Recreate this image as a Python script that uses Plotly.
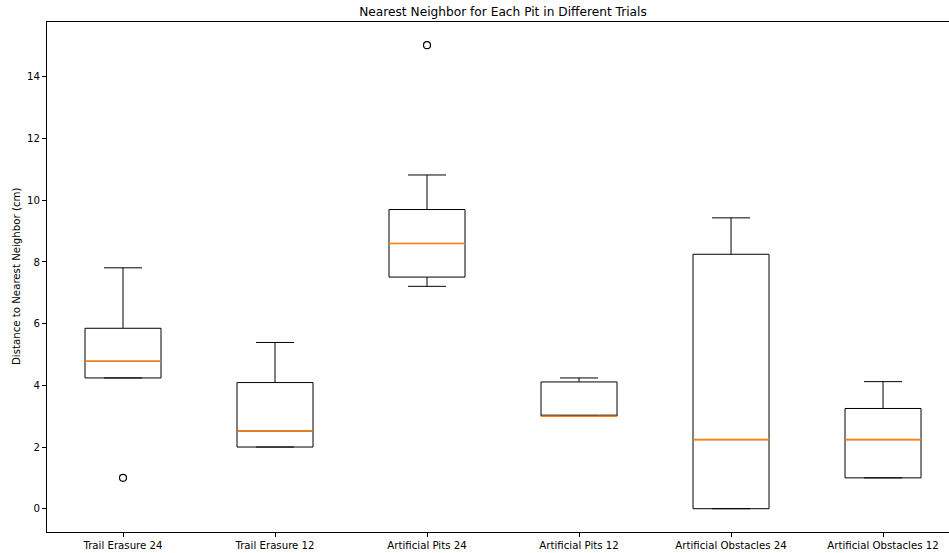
import plotly.graph_objects as go

# Nearest-neighbour distances per trial (cm): box summary statistics
trials = ["Trail Erasure 24", "Trail Erasure 12", "Artificial Pits 24",
          "Artificial Pits 12", "Artificial Obstacles 24", "Artificial Obstacles 12"]
positions = [1, 2, 3, 4, 5, 6]
lower_whisker = [4.24, 2.00, 7.21, 3.00, 0.00, 1.00]
q1 = [4.24, 2.00, 7.51, 3.00, 0.00, 1.00]
median = [4.78, 2.52, 8.60, 3.00, 2.24, 2.24]
q3 = [5.85, 4.09, 9.70, 4.11, 8.25, 3.25]
upper_whisker = [7.81, 5.39, 10.82, 4.24, 9.43, 4.12]

# Points beyond the whiskers
outlier_pos = [1, 3]
outlier_val = [1.00, 15.03]

y_ticks = [0, 2, 4, 6, 8, 10, 12, 14]

FONT = "DejaVu Sans"
BOX_W = 0.5

fig = go.Figure()

fig.add_trace(go.Box(
    x=positions,
    q1=q1,
    median=median,
    q3=q3,
    lowerfence=lower_whisker,
    upperfence=upper_whisker,
    width=BOX_W,
    whiskerwidth=0.5,
    fillcolor="rgba(255,255,255,0)",
    line=dict(color="#000000", width=1),
    boxpoints=False,
    hoverinfo="skip",
    showlegend=False,
))

# Orange median lines drawn across each box
for p, m in zip(positions, median):
    fig.add_trace(go.Scatter(
        x=[p - BOX_W / 2, p + BOX_W / 2],
        y=[m, m],
        mode="lines",
        line=dict(color="#ff7f0e", width=1.6),
        hoverinfo="skip",
        showlegend=False,
    ))

fig.add_trace(go.Scatter(
    x=outlier_pos,
    y=outlier_val,
    mode="markers",
    marker=dict(symbol="circle-open", size=7, color="#000000",
                line=dict(width=1.2, color="#000000")),
    hoverinfo="skip",
    showlegend=False,
))

W, H = 949, 553
L, T, B = 47, 22, 21

fig.update_layout(
    width=W,
    height=H,
    margin=dict(l=L, r=0, t=T, b=B, pad=0),
    paper_bgcolor="white",
    plot_bgcolor="white",
    font=dict(family=FONT, size=10, color="#000000"),
    title=dict(
        text="Nearest Neighbor for Each Pit in Different Trials",
        font=dict(family=FONT, size=12.2, color="#000000"),
        x=503 / W, xref="container", xanchor="center",
        y=1 - 12 / H, yref="container", yanchor="middle",
    ),
    xaxis=dict(
        range=[0.5, 6.434],
        tickvals=positions,
        ticktext=trials,
        ticks="outside",
        ticklen=4,
        tickwidth=1,
        tickcolor="#000000",
        showline=True,
        linecolor="#000000",
        linewidth=1,
        mirror=True,
        showgrid=False,
        zeroline=False,
        tickfont=dict(family=FONT, size=10.2, color="#000000"),
    ),
    yaxis=dict(
        range=[-0.755, 15.78],
        tickvals=y_ticks,
        ticks="outside",
        ticklen=4,
        tickwidth=1,
        tickcolor="#000000",
        showline=True,
        linecolor="#000000",
        linewidth=1,
        mirror=False,
        showgrid=False,
        zeroline=False,
        tickfont=dict(family=FONT, size=10.2, color="#000000"),
    ),
    annotations=[dict(
        text="Distance to Nearest Neighbor (cm)",
        textangle=-90,
        xref="paper", yref="paper",
        x=(16 - L) / (W - L), y=0.5,
        xanchor="center", yanchor="middle",
        showarrow=False,
        font=dict(family=FONT, size=10.2, color="#000000"),
    )],
)

fig.write_html("out.html")
